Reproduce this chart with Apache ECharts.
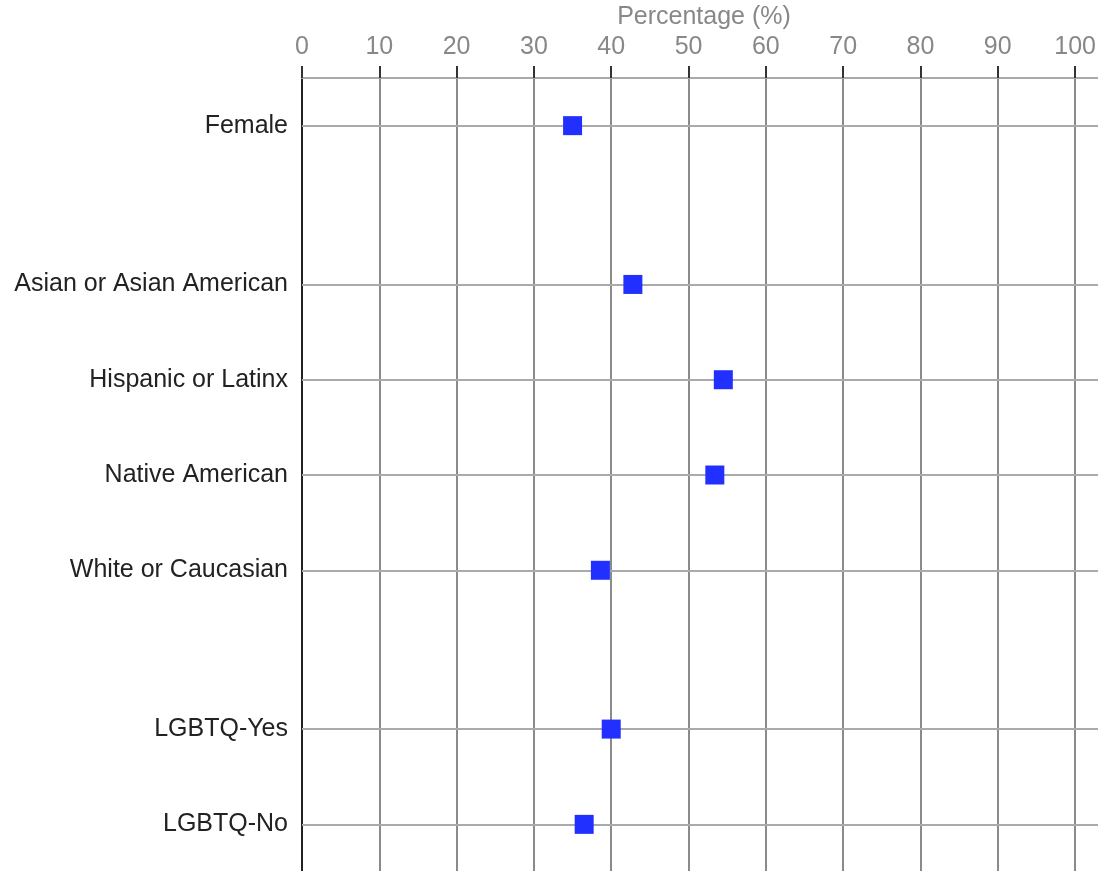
<!DOCTYPE html>
<html>
<head>
<meta charset="utf-8">
<script src="https://cdn.jsdelivr.net/npm/echarts@6/dist/echarts.min.js"></script>
<style>
html,body{margin:0;padding:0;background:#fff;}
#chart{width:1098px;height:871px;}
</style>
</head>
<body>
<div id="chart"></div>
<script>
// Category rows (blank entries are visual gaps between groups)
var categories = ['', 'Female', '', '', '', '', 'Asian or Asian American', '', '', 'Hispanic or Latinx', '', '', 'Native American', '', '', 'White or Caucasian', '', '', '', '', 'LGBTQ-Yes', '', '', 'LGBTQ-No', ''];
var groups = ['Female', 'Asian or Asian American', 'Hispanic or Latinx', 'Native American', 'White or Caucasian', 'LGBTQ-Yes', 'LGBTQ-No'];
var percentages = [35.0, 42.8, 54.5, 53.4, 38.6, 40.0, 36.5];
var xTicks = [0, 10, 20, 30, 40, 50, 60, 70, 80, 90, 100];

var chart = echarts.init(document.getElementById('chart'));
var font = 'Liberation Sans, Arial, sans-serif';
chart.setOption({
  animation: false,
  grid: { left: 302, top: 78, width: 804, height: 794, containLabel: false, outerBoundsMode: 'none' },
  xAxis: {
    type: 'value',
    position: 'top',
    min: 0,
    max: 104,
    interval: 10,
    name: 'Percentage (%)',
    nameLocation: 'middle',
    nameGap: 44,
    nameTextStyle: { color: '#888', fontSize: 25, fontFamily: font },
    axisLine: { show: true, lineStyle: { color: '#aaa', width: 2 } },
    axisTick: { show: true, length: 12, lineStyle: { color: '#333', width: 2 } },
    axisLabel: {
      color: '#888', fontSize: 25, fontFamily: font, margin: 18,
      showMaxLabel: false,
      formatter: function (v) { return xTicks.indexOf(v) >= 0 ? String(v) : ''; }
    },
    splitLine: { show: true, lineStyle: { color: '#8a8a8a', width: 2 } }
  },
  yAxis: {
    type: 'category',
    inverse: true,
    data: categories,
    boundaryGap: true,
    axisLine: { show: true, onZero: false, lineStyle: { color: '#222', width: 2 } },
    axisTick: { show: false },
    axisLabel: { color: '#222', fontSize: 25, fontFamily: font, margin: 14, interval: 0 },
    splitLine: { show: false }
  },
  series: [{
    type: 'scatter',
    symbol: 'rect',
    symbolSize: 19,
    itemStyle: { color: '#2230ff', opacity: 1 },
    data: groups.map(function (g, i) { return [percentages[i], g]; }),
    z: 5,
    markLine: {
      silent: true,
      symbol: 'none',
      label: { show: false },
      lineStyle: { color: '#aaa', width: 2, type: 'solid' },
      z: 1,
      data: groups.map(function (g) { return { yAxis: g }; })
    }
  }]
});
</script>
</body>
</html>
